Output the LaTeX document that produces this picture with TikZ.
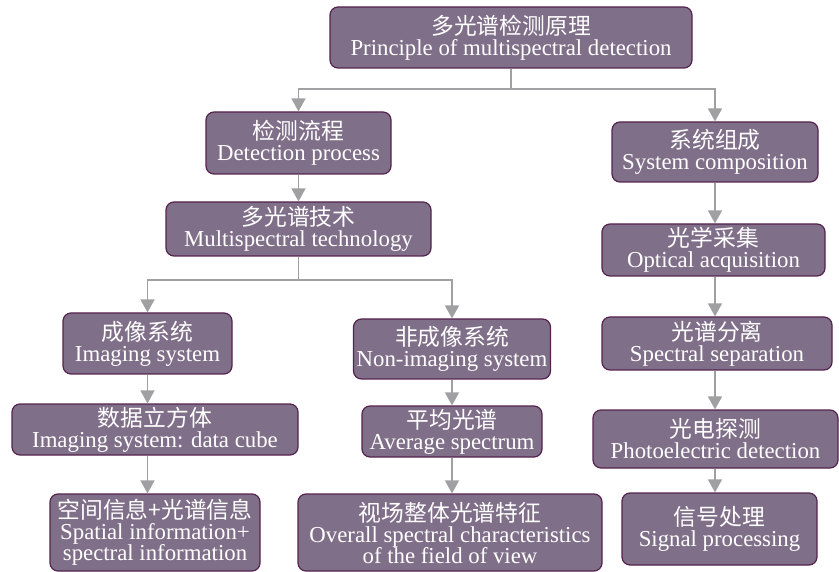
\documentclass[tikz,border=0pt]{standalone}
\usepackage{fontspec}
\setmainfont{Liberation Serif}
\newfontfamily\cjk{Noto Sans CJK SC}
\usetikzlibrary{arrows.meta}
\definecolor{boxfill}{RGB}{128,111,137}
\definecolor{boxline}{RGB}{84,35,78}
\definecolor{arrowgray}{RGB}{160,160,162}

\begin{document}
\begin{tikzpicture}[x=1pt, y=-1pt, >={Triangle[width=14pt,length=13pt]},
	stage/.style={rectangle, rounded corners=8pt, draw=boxline, fill=boxfill, line width=1.2pt, text=white, align=center, inner sep=0pt, font=\fontsize{22.8}{21}\selectfont},
	link/.style={->, draw=arrowgray, line width=1.6pt}]
	\useasboundingbox (0,0) rectangle (839,572);
	%Root
	\node [stage, minimum width=362, minimum height=61] (principle) at (511,37.5) {{\cjk 多光谱检测原理}\\Principle of multispectral detection};
	%Left branch
	\node [stage, minimum width=185, minimum height=62] (detect) at (298.5,143) {{\cjk 检测流程}\\Detection process};
	\node [stage, minimum width=265, minimum height=54] (tech) at (298.5,229) {{\cjk 多光谱技术}\\Multispectral technology};
	%Imaging
	\node [stage, minimum width=169, minimum height=61] (imaging) at (147.5,343.5) {{\cjk 成像系统}\\Imaging system};
	\node [stage, minimum width=286, minimum height=51] (cube) at (155,429.5) {{\cjk 数据立方体}\\Imaging system: data cube};
	\node [stage, minimum width=210, minimum height=77] (spatial) at (155,532.5) {{\cjk 空间信息+光谱信息}\\Spatial information+\\spectral information};
	%Non-imaging
	\node [stage, minimum width=197, minimum height=60] (nonimaging) at (452,349) {{\cjk 非成像系统}\\Non-imaging system};
	\node [stage, minimum width=180, minimum height=51] (average) at (452,431.5) {{\cjk 平均光谱}\\Average spectrum};
	\node [stage, minimum width=304, minimum height=77] (overall) at (450,532.5) {{\cjk 视场整体光谱特征}\\Overall spectral characteristics\\of the field of view};
	%Right branch
	\node [stage, minimum width=206, minimum height=60] (compose) at (715,152) {{\cjk 系统组成}\\System composition};
	\node [stage, minimum width=223, minimum height=52] (optical) at (713.5,250) {{\cjk 光学采集}\\Optical acquisition};
	\node [stage, minimum width=230, minimum height=53] (separate) at (717,343.5) {{\cjk 光谱分离}\\Spectral separation};
	\node [stage, minimum width=245, minimum height=58] (photo) at (715.5,439) {{\cjk 光电探测}\\Photoelectric detection};
	\node [stage, minimum width=195, minimum height=72] (signal) at (719.5,529) {{\cjk 信号处理}\\Signal processing};
	%Forks
	\coordinate (fork1) at (511,89);
	\coordinate (fork2) at (298.5,280);
	\draw [link] (principle.south) -- (fork1) -| (detect.north);
	\draw [link] (fork1) -| (compose.north);
	\draw [link] (detect.south) -- (tech.north);
	\draw [link] (tech.south) -- (fork2) -| (imaging.north);
	\draw [link] (fork2) -| (nonimaging.north);
	%Chains
	\draw [link] (imaging.south) -- (imaging.south |- cube.north);
	\draw [link] (imaging.south |- cube.south) -- (imaging.south |- spatial.north);
	\draw [link] (nonimaging.south) -- (average.north);
	\draw [link] (average.south) -- (average.south |- overall.north);
	\draw [link] (compose.south) -- (compose.south |- optical.north);
	\draw [link] (compose.south |- optical.south) -- (compose.south |- separate.north);
	\draw [link] (compose.south |- separate.south) -- (compose.south |- photo.north);
	\draw [link] (compose.south |- photo.south) -- (compose.south |- signal.north);
\end{tikzpicture}
\end{document}
